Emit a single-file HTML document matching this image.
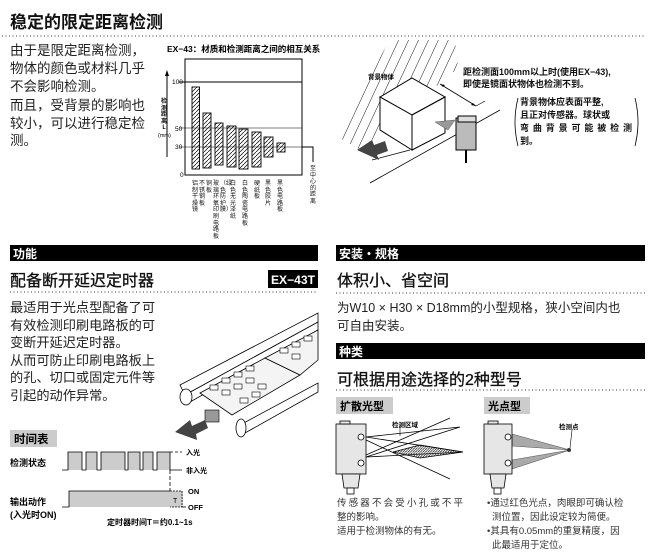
<!DOCTYPE html>
<html><head><meta charset="utf-8"><style>
html,body{margin:0;padding:0;background:#fff;}
body{position:relative;width:658px;height:556px;overflow:hidden;}
svg{display:block;font-family:"Liberation Sans","Noto Sans CJK SC",sans-serif;}
.b{font-weight:bold}
.vt{position:absolute;width:6px;word-break:break-all;font-family:"Noto Sans CJK SC",sans-serif;font-size:6px;line-height:6.6px;color:#111;text-align:center;}
</style></head><body>
<svg width="658" height="556" viewBox="0 0 658 556" xmlns="http://www.w3.org/2000/svg">
<defs>
<pattern id="h" width="4" height="4" patternUnits="userSpaceOnUse"><path d="M0 4L4 0" stroke="#000" stroke-width="0.7"/></pattern>
<pattern id="w" width="9" height="9" patternUnits="userSpaceOnUse" patternTransform="rotate(25)"><path d="M0 0V9" stroke="#000" stroke-width="0.9"/></pattern>
<pattern id="dh" width="2.5" height="2.5" patternUnits="userSpaceOnUse"><path d="M0 2.5L2.5 0" stroke="#333" stroke-width="0.8"/></pattern>
</defs>
<text x="10" y="28" font-size="17" class="b" fill="#111">稳定的限定距离检测</text>
<line x1="2" y1="36" x2="644" y2="36" stroke="#333" stroke-dasharray="1 2.5"/>
<g font-size="13.5" fill="#222">
<text x="10" y="55">由于是限定距离检测，</text>
<text x="10" y="73">物体的颜色或材料几乎</text>
<text x="10" y="91">不会影响检测。</text>
<text x="10" y="110">而且，受背景的影响也</text>
<text x="10" y="128">较小，可以进行稳定检</text>
<text x="10" y="145">测。</text>
</g>
<text x="167" y="52" font-size="8.5" class="b">EX−43：材质和检测距离之间的相互关系</text>
<rect x="185" y="59" width="117" height="116" fill="none" stroke="#000" stroke-width="1"/>
<line x1="179" y1="82" x2="302" y2="82" stroke="#000"/>
<line x1="179" y1="128" x2="302" y2="128" stroke="#000" stroke-width="0.6"/>
<line x1="179" y1="147" x2="313" y2="147" stroke="#000" stroke-width="0.6"/>
<polyline points="302,147 313,147 313,162" fill="none" stroke="#000"/>
<g font-size="6.5"><text x="172" y="84">100</text><text x="175" y="131">50</text><text x="175" y="149">30</text><text x="180" y="177">0</text></g>
<line x1="167" y1="157" x2="167" y2="73" stroke="#000"/><path d="M165 76L167 70L169 76Z"/>
<text x="158" y="137" font-size="5.5">(mm)</text>
<g fill="url(#h)" stroke="#000" stroke-width="0.9">
<rect x="192" y="87" width="7.5" height="82"/><rect x="203" y="113" width="8" height="55"/>
<rect x="215" y="123" width="8" height="42"/><rect x="227" y="126" width="9" height="41"/>
<rect x="239" y="129" width="9" height="40"/><rect x="252" y="132" width="9" height="35"/>
<rect x="264" y="137" width="9" height="20"/><rect x="277" y="143" width="8" height="9"/>
</g>
<polygon points="335,135 390,40 455,40 458,68 360,150" fill="url(#w)"/>
<polygon points="380,97 412,78 445,97 412,115" fill="#fff" stroke="#000"/>
<polygon points="380,97 412,115 412,150 380,130" fill="#fff" stroke="#000"/>
<polygon points="412,115 445,97 445,133 412,150" fill="#fff" stroke="#000"/>
<line x1="370" y1="183" x2="500" y2="110" stroke="#000" stroke-width="0.8"/>
<line x1="372" y1="160" x2="410" y2="150" stroke="#000" stroke-width="0.8"/>
<line x1="440" y1="84" x2="476" y2="106" stroke="#000" stroke-width="0.8"/>
<path d="M440 84l5 1-2 2zM476 106l-5-1 2-2z"/>
<line x1="476" y1="106" x2="485" y2="101" stroke="#000" stroke-width="0.7"/>
<polygon points="435,122 455,120 448,130" fill="#999" stroke="#555" stroke-width="0.5"/>
<rect x="456" y="118" width="20" height="32" fill="#bbb" stroke="#000"/>
<rect x="458" y="116" width="18" height="6" fill="#ddd" stroke="#000"/>
<line x1="466" y1="150" x2="466" y2="163" stroke="#000" stroke-width="2"/>
<polygon points="357,150 372,140 374,145 385,141 388,151 377,155 379,160" fill="#444"/>
<text x="368" y="79" font-size="6.5" class="b">背景物体</text>
<g font-size="9" class="b" fill="#111">
<text x="463" y="75">距检测面100mm以上时(使用EX−43),</text>
<text x="463" y="87">即使是镜面状物体也检测不到。</text>
<text x="520" y="105">背景物体应表面平整,</text>
<text x="520" y="118">且正对传感器。球状或</text>
<text x="520" y="131" textLength="112">弯曲背景可能被检测</text>
<text x="520" y="144">到。</text>
</g>
<path d="M518 98Q512 122 518 146M635 98Q641 122 635 146" fill="none" stroke="#000" stroke-width="0.8"/>
<rect x="10" y="245" width="308" height="16" fill="#000"/>
<text x="13" y="258" font-size="12" class="b" fill="#fff">功能</text>
<rect x="336" y="245" width="309" height="16" fill="#000"/>
<text x="339" y="258" font-size="12" class="b" fill="#fff">安装・规格</text>
<text x="10" y="286" font-size="16" fill="#111" stroke="#111" stroke-width="0.3">配备断开延迟定时器</text>
<rect x="268" y="270" width="50" height="18" fill="#000"/>
<text x="271" y="284" font-size="12" class="b" fill="#fff" textLength="44" lengthAdjust="spacingAndGlyphs">EX−43T</text>
<line x1="10" y1="292" x2="318" y2="292" stroke="#333" stroke-dasharray="1 2.5"/>
<g font-size="13.2" fill="#222">
<text x="10" y="312">最适用于光点型配备了可</text>
<text x="10" y="330">有效检测印刷电路板的可</text>
<text x="10" y="347">变断开延迟定时器。</text>
<text x="10" y="365">从而可防止印刷电路板上</text>
<text x="10" y="382">的孔、切口或固定元件等</text>
<text x="10" y="400">引起的动作异常。</text>
</g>
<g stroke="#000" stroke-width="0.8" fill="#fff">
<polygon points="180,385 318,313 318,322 185,395"/>
<polygon points="185,395 318,322 318,330 190,402"/>
<ellipse cx="186" cy="397" rx="6" ry="8"/>
<polygon points="200,393 265,358 300,375 232,415" fill="#f4f4f4"/>
<polygon points="265,358 318,330 318,360 300,375" fill="#f4f4f4"/>
<polygon points="240,425 318,383 318,392 245,433"/>
<ellipse cx="241" cy="428" rx="5" ry="9"/>
</g>
<g fill="#fff" stroke="#000" stroke-width="0.6">
<rect x="210" y="385" width="8" height="5"/><rect x="222" y="378" width="8" height="5"/><rect x="234" y="372" width="8" height="5"/><rect x="246" y="366" width="8" height="5"/>
<rect x="222" y="390" width="8" height="5"/><rect x="234" y="384" width="8" height="5"/><rect x="246" y="378" width="8" height="5"/><rect x="258" y="384" width="8" height="5"/>
<rect x="240" y="398" width="8" height="5"/><rect x="252" y="392" width="8" height="5"/><rect x="280" y="348" width="8" height="5"/><rect x="292" y="342" width="8" height="5"/><rect x="304" y="336" width="8" height="5"/><rect x="292" y="354" width="8" height="5"/>
</g>
<rect x="205" y="410" width="14" height="12" fill="#999" stroke="#000" stroke-width="0.6"/>
<polygon points="175,432 190,420 192,426 205,420 208,428 196,434 197,440" fill="#444"/>
<rect x="10" y="430" width="47" height="17" fill="#ccc"/>
<text x="14" y="443" font-size="11.5" class="b">时间表</text>
<text x="10" y="466" font-size="9" class="b">检测状态</text>
<path d="M62 470H68V452H82V470H86V452H97V470H101V452H125V470H128V452H140V470H143V452H153V470H157V452H170V470H182" fill="#ccc" stroke="#000" stroke-width="0.8"/>
<line x1="170" y1="452" x2="182" y2="452" stroke="#000" stroke-dasharray="3 2" stroke-width="0.8"/>
<text x="186" y="455" font-size="7" class="b">入光</text>
<text x="186" y="473" font-size="7" class="b">非入光</text>
<line x1="170" y1="470" x2="170" y2="507" stroke="#000" stroke-dasharray="4 2" stroke-width="0.8"/>
<rect x="69" y="491" width="114" height="16" fill="#ccc"/>
<path d="M62 507H69V491H170" fill="none" stroke="#000" stroke-width="0.8"/>
<path d="M170 491H182V507H170" fill="none" stroke="#000" stroke-dasharray="2 1" stroke-width="0.7"/>
<line x1="182" y1="507" x2="186" y2="507" stroke="#000" stroke-width="0.8"/>
<text x="173" y="503" font-size="7">T</text>
<text x="188" y="494" font-size="7.5" class="b">ON</text>
<text x="188" y="510" font-size="7.5" class="b">OFF</text>
<text x="10" y="505" font-size="9" class="b">输出动作</text>
<text x="10" y="518" font-size="9" class="b">(入光时ON)</text>
<text x="107" y="525" font-size="8" class="b">定时器时间T＝约0.1~1s</text>
<text x="337" y="286" font-size="16" fill="#111" stroke="#111" stroke-width="0.3">体积小、省空间</text>
<line x1="336" y1="293" x2="645" y2="293" stroke="#333" stroke-dasharray="1 2.5"/>
<g font-size="12.5" fill="#222">
<text x="337" y="312">为W10 × H30 × D18mm的小型规格，狭小空间内也</text>
<text x="337" y="330">可自由安装。</text>
</g>
<rect x="336" y="343" width="309" height="16" fill="#000"/>
<text x="339" y="356" font-size="12" class="b" fill="#fff">种类</text>
<text x="337" y="385" font-size="16" fill="#111" stroke="#111" stroke-width="0.3">可根据用途选择的2种型号</text>
<line x1="336" y1="390" x2="645" y2="390" stroke="#333" stroke-dasharray="1 2.5"/>
<rect x="336" y="397" width="57" height="17" fill="#ccc"/>
<text x="340" y="410" font-size="11" class="b">扩散光型</text>
<rect x="484" y="397" width="46" height="17" fill="#ccc"/>
<text x="488" y="410" font-size="11" class="b">光点型</text>
<g stroke="#000" stroke-width="0.8">
<polyline points="366,437 460,427 366,457 463,452 366,437" fill="none"/>
<line x1="366" y1="440" x2="450" y2="479"/><line x1="366" y1="455" x2="450" y2="418"/>
<polygon points="393,452 420,445 463,452 420,458" fill="url(#dh)"/>
<rect x="336" y="424" width="30" height="50" fill="#e6e6e6"/>
<rect x="340" y="421" width="10" height="3" fill="#e6e6e6"/>
<polygon points="342,474 360,474 358,488 344,488" fill="#e6e6e6"/>
<rect x="347" y="488" width="7" height="6" fill="#fff"/>
<circle cx="361" cy="437" r="3" fill="#fff"/><circle cx="361" cy="463" r="3" fill="#fff"/>
</g>
<line x1="400" y1="436" x2="400" y2="425" stroke="#000" stroke-width="0.6"/>
<text x="392" y="427" font-size="6.5" class="b">检测区域</text>
<polygon points="512,434 570,450 512,446" fill="#aaa" stroke="#555" stroke-width="0.6"/>
<polygon points="512,460 570,450 512,469" fill="#aaa" stroke="#555" stroke-width="0.6"/>
<circle cx="569" cy="450" r="2" fill="#333"/>
<line x1="570" y1="448" x2="572" y2="430" stroke="#000" stroke-width="0.6"/>
<text x="559" y="429" font-size="6.5" class="b">检测点</text>
<g stroke="#000" stroke-width="0.8" fill="#e6e6e6">
<rect x="484" y="424" width="28" height="50"/>
<rect x="488" y="421" width="10" height="3"/>
<polygon points="490,474 506,474 504,488 492,488"/>
<rect x="494" y="488" width="7" height="6" fill="#fff"/>
<circle cx="508" cy="437" r="3" fill="#fff"/><circle cx="508" cy="463" r="3" fill="#fff"/>
</g>
<g font-size="9.5" fill="#333">
<text x="337" y="506" textLength="126">传感器不会受小孔或不平</text>
<text x="337" y="520">整的影响。</text>
<text x="337" y="534">适用于检测物体的有无。</text>
<text x="487" y="506">•通过红色光点，肉眼即可确认检</text>
<text x="492" y="520">测位置，因此设定较为简便。</text>
<text x="487" y="534">•其具有0.05mm的重复精度，因</text>
<text x="492" y="548">此最适用于定位。</text>
</g>
</svg>
<div class="vt" style="left:161px;top:98px;font-weight:bold;">检测距离L</div>
<div class="vt" style="left:192px;top:180px;">铝制干燥镜</div>
<div class="vt" style="left:199px;top:180px;">不锈钢板</div>
<div class="vt" style="left:206px;top:180px;">铜板</div>
<div class="vt" style="left:213px;top:180px;">玻璃环氧印刷电路板</div>
<div class="vt" style="left:220px;top:180px;">（绿色防护膜）</div>
<div class="vt" style="left:230px;top:180px;">白色无光泽纸</div>
<div class="vt" style="left:242px;top:180px;">白色陶瓷电路板</div>
<div class="vt" style="left:254px;top:180px;">硬纸板</div>
<div class="vt" style="left:265px;top:180px;">黑色胶片</div>
<div class="vt" style="left:277px;top:180px;">黑色电路板</div>
<div class="vt" style="left:310px;top:165px;">至中心的距离</div>
</body></html>
